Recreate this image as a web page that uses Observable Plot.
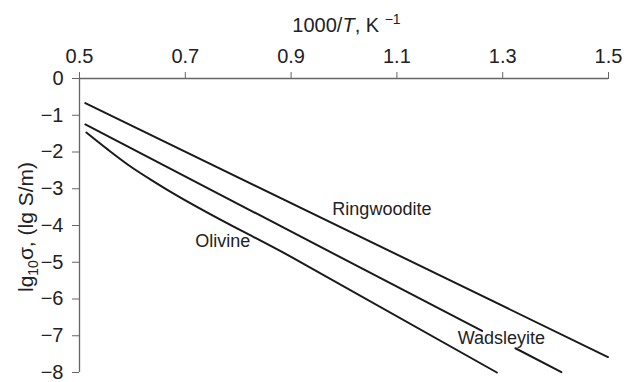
<!DOCTYPE html>
<html><head><meta charset="utf-8">
<script src="https://cdn.jsdelivr.net/npm/d3@7"></script>
<script src="https://cdn.jsdelivr.net/npm/@observablehq/plot@0.6"></script>
<style>
body{margin:0;background:#fff;}
#chart svg{overflow:visible;display:block;}
</style>
</head><body><div id="chart"></div>
<script>
// Tick values
const xTicks = [0.5, 0.7, 0.9, 1.1, 1.3, 1.5];
const yTicks = [0, -1, -2, -3, -4, -5, -6, -7, -8];

// Ringwoodite (straight)
const ringX = [0.511, 1.499];
const ringY = [-0.67, -7.58];
// Wadsleyite (straight, interrupted by its label)
const wadsX = [0.511, 1.261, 1.324, 1.411];
const wadsY = [-1.25, -6.87, -7.34, -7.99];
const wadsPart = ["a", "a", "b", "b"];
// Olivine (curved at high T)
const olivX = [0.513, 0.555, 0.593, 0.649, 0.911, 1.289];
const olivY = [-1.47, -1.95, -2.36, -2.88, -4.94, -8.0];

// Curve labels
const labelNames = ["Ringwoodite", "Olivine", "Wadsleyite"];
const labelX = [0.978, 0.719, 1.215];
const labelY = [-3.55, -4.44, -7.07];

const rows = [];
ringX.forEach((x, i) => rows.push({x, y: ringY[i], seg: "ring"}));
wadsX.forEach((x, i) => rows.push({x, y: wadsY[i], seg: "wads-" + wadsPart[i]}));
olivX.forEach((x, i) => rows.push({x, y: olivY[i], seg: "oliv"}));
const labels = labelNames.map((t, i) => ({t, x: labelX[i], y: labelY[i]}));

const FONT = "'Liberation Sans', Arial, Helvetica, sans-serif";
const plot = Plot.plot({
  width: 626, height: 382,
  marginLeft: 79, marginRight: 18, marginTop: 78, marginBottom: 10,
  style: {fontFamily: FONT, fontSize: "20px", color: "#222", background: "#fff"},
  x: {domain: [0.5, 1.5]},
  y: {domain: [-8, 0]},
  marks: [
    Plot.ruleY([0], {stroke: "#666", strokeWidth: 1.3}),
    Plot.ruleX([0.5], {stroke: "#666", strokeWidth: 1.3}),
    Plot.axisX(xTicks, {anchor: "top", tickSize: 7, tickPadding: 9, stroke: "#666", fill: "#222",
      tickFormat: d3.format(".1f"), label: null, fontSize: 20}),
    Plot.axisY(yTicks, {anchor: "left", tickSize: 7, tickPadding: 9, stroke: "#666", fill: "#222",
      tickFormat: d => d === 0 ? "0" : "\u2212" + Math.abs(d), label: null, fontSize: 20}),
    Plot.line(rows, {x: "x", y: "y", z: "seg", stroke: "#1a1a1a", strokeWidth: 2, curve: "monotone-x"}),
    Plot.text(labels, {x: "x", y: "y", text: "t", textAnchor: "start", fontSize: 18, fill: "#222"})
  ]
});
document.getElementById("chart").appendChild(plot);

// Axis titles with italic / superscript / subscript parts
const svgSel = d3.select(plot);
const xScale = plot.scale("x"), yScale = plot.scale("y");
const midX = (xScale.range[0] + xScale.range[1]) / 2;
const midY = (yScale.range[0] + yScale.range[1]) / 2;
const frameTop = yScale.range[1];
const xt = svgSel.append("text").attr("x", midX + 3).attr("y", frameTop - 46)
  .attr("text-anchor", "middle").attr("font-size", 20).attr("fill", "#222").attr("font-family", FONT);
xt.append("tspan").text("1000/");
xt.append("tspan").attr("font-style", "italic").text("T");
xt.append("tspan").text(", K ");
xt.append("tspan").attr("font-size", 14).attr("dy", -8).text("\u22121");

const yt = svgSel.append("text").attr("transform", `translate(33,${midY + 2}) rotate(-90)`)
  .attr("text-anchor", "middle").attr("font-size", 21).attr("fill", "#222").attr("font-family", FONT);
yt.append("tspan").text("lg");
yt.append("tspan").attr("font-size", 14).attr("dy", 5).text("10");
yt.append("tspan").attr("dy", -5).text("\u03c3, (lg S/m)");
</script>
</body></html>
